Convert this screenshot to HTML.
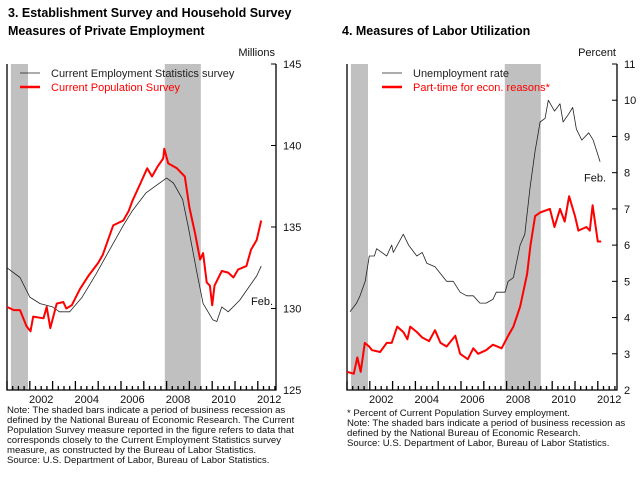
<!DOCTYPE html>
<html><head><meta charset="utf-8"><style>
body{margin:0;background:#fff;font-family:"Liberation Sans",Arial,sans-serif;}
svg text{font-family:"Liberation Sans",Arial,sans-serif;}
</style></head><body>
<svg id="s" width="640" height="474" xmlns="http://www.w3.org/2000/svg">
<text x="8" y="17" font-size="12.5" font-weight="bold">3.  Establishment Survey and Household Survey</text>
<text x="8" y="35" font-size="12.5" font-weight="bold">Measures of Private Employment</text>
<text x="342" y="35" font-size="12.5" font-weight="bold">4.  Measures of Labor Utilization</text>
<g font-size="9.6" fill="#111">
<text x="7" y="413">Note: The shaded bars indicate a period of business recession as</text>
<text x="7" y="423">defined by the National Bureau of Economic Research.  The Current</text>
<text x="7" y="433">Population Survey measure reported in the figure refers to data that</text>
<text x="7" y="443">corresponds closely to the Current Employment Statistics survey</text>
<text x="7" y="453">measure, as constructed by the Bureau of Labor Statistics.</text>
<text x="7" y="463">Source: U.S. Department of Labor, Bureau of Labor Statistics.</text>
</g>
<g font-size="9.6" fill="#111">
<text x="347" y="416">* Percent of Current Population Survey employment.</text>
<text x="347" y="426">Note: The shaded bars indicate a period of business recession as</text>
<text x="347" y="436">defined by the National Bureau of Economic Research.</text>
<text x="347" y="446">Source: U.S. Department of Labor, Bureau of Labor Statistics.</text>
</g>
</svg>
<script>
const recessions=[[2001.17,2001.92],[2007.92,2009.5]];
const yearLabels=["2002","2004","2006","2008","2010","2012"];
const cesT=[2001.0,2001.57,2002.0,2002.45,2003.0,2003.3,2003.75,2004.3,2004.9,2005.5,2006.1,2006.5,2007.1,2007.6,2008.0,2008.3,2008.7,2008.95,2009.33,2009.6,2010.03,2010.2,2010.42,2010.7,2011.2,2011.5,2011.95,2012.15];
const cesV=[132.5,131.9,130.7,130.3,130.1,129.8,129.8,130.7,132.1,133.6,135.1,136.0,137.1,137.6,138.0,137.7,136.7,135.0,132.2,130.3,129.3,129.2,130.1,129.8,130.5,131.1,132.0,132.6];
const cpsT=[2001.0,2001.3,2001.57,2001.86,2002.03,2002.15,2002.6,2002.74,2002.9,2003.18,2003.47,2003.6,2003.84,2004.2,2004.57,2005.0,2005.2,2005.66,2006.1,2006.34,2006.5,2006.86,2007.15,2007.36,2007.6,2007.85,2007.9,2008.07,2008.45,2008.8,2009.0,2009.25,2009.47,2009.6,2009.76,2009.9,2010.0,2010.1,2010.42,2010.7,2010.93,2011.14,2011.5,2011.7,2011.95,2012.15];
const cpsV=[130.1,129.9,129.9,128.9,128.6,129.5,129.4,130.1,128.8,130.3,130.4,130.0,130.2,131.2,132.0,132.8,133.3,135.1,135.4,136.0,136.6,137.7,138.6,138.1,138.7,139.2,139.8,138.9,138.6,138.1,136.2,134.6,133.0,133.4,131.6,131.4,130.2,131.4,132.3,132.2,131.9,132.4,132.6,133.6,134.2,135.4];
const urT=[2001.13,2001.42,2001.57,2001.8,2001.98,2002.2,2002.3,2002.74,2002.96,2003.03,2003.47,2003.7,2004.06,2004.3,2004.5,2004.86,2005.37,2005.66,2005.96,2006.25,2006.54,2006.83,2007.1,2007.4,2007.55,2007.93,2008.07,2008.3,2008.59,2008.8,2009.03,2009.25,2009.47,2009.69,2009.83,2010.1,2010.34,2010.48,2010.7,2010.9,2011.06,2011.3,2011.6,2011.8,2012.1];
const urV=[4.16,4.4,4.6,5.0,5.7,5.7,5.9,5.7,6.0,5.8,6.3,6.0,5.7,5.8,5.5,5.4,5.0,5.0,4.7,4.6,4.6,4.4,4.4,4.5,4.7,4.7,5.0,5.1,6.0,6.3,7.6,8.6,9.4,9.5,10.0,9.7,9.9,9.4,9.6,9.8,9.2,8.9,9.1,8.9,8.3];
const ptT=[2001.0,2001.3,2001.45,2001.6,2001.78,2001.97,2002.1,2002.45,2002.74,2002.96,2003.2,2003.47,2003.65,2003.77,2004.06,2004.3,2004.6,2004.86,2005.1,2005.37,2005.75,2005.96,2006.3,2006.54,2006.75,2007.1,2007.4,2007.78,2008.07,2008.3,2008.59,2008.9,2009.05,2009.25,2009.47,2009.9,2010.1,2010.34,2010.55,2010.74,2011.0,2011.15,2011.5,2011.65,2011.77,2012.0,2012.15];
const ptV=[2.5,2.45,2.9,2.5,3.3,3.2,3.1,3.05,3.3,3.3,3.75,3.6,3.4,3.75,3.6,3.45,3.35,3.65,3.3,3.2,3.5,3.0,2.85,3.15,3.0,3.1,3.25,3.15,3.5,3.75,4.3,5.2,6.0,6.8,6.9,7.0,6.5,7.0,6.65,7.35,6.8,6.4,6.5,6.4,7.1,6.1,6.1];
const leftTicks=["125","130","135","140","145"];
const rightTicks=["2","3","4","5","6","7","8","9","10","11"];

const svg=document.getElementById('s');
const NS="http://www.w3.org/2000/svg";
function mk(tag,attrs,parent){const e=document.createElementNS(NS,tag);for(const k in attrs)e.setAttribute(k,attrs[k]);(parent||svg).appendChild(e);return e;}

function chart(cfg){
  const x0=cfg.x0,x1=cfg.x1,top=64,bot=390;
  const X=t=>x0+(t-2001)*22.8;
  const Y=v=>bot-(v-cfg.min)/(cfg.max-cfg.min)*(bot-top);
  const g=mk('g',{});
  
  
  recessions.forEach((r,i)=>{const e=mk('rect',{x:X(r[0]),y:top,width:X(r[1])-X(r[0]),height:bot-top,fill:'#c0c0c0'},g);
    
    });
  const ax=mk('path',{d:`M${x0},${top}V${bot}H${x1}V${top}`,fill:'none',stroke:'#000','stroke-width':1.3},g);
  
  
  let d='';
  for(let q=0;q<=47;q++){const t=2001+q/4;const xx=X(t);if(xx>x1)break;const h=(q%4===0)?9:4;d+=`M${xx},${bot}v${-h}`;}
  const tk=mk('path',{d:d,stroke:'#000','stroke-width':1.3},g);
  
  
  yearLabels.forEach(l=>{const e=mk('text',{x:X(+l+0.5),y:bot+13,'font-size':11,'text-anchor':'middle',fill:'#111'},g);e.textContent=l;
    
    });
  cfg.ticks.forEach(l=>{const yy=Y(+l);mk('line',{x1:x1-5,x2:x1,y1:yy,y2:yy,stroke:'#000','stroke-width':1},g);
    const e=mk('text',{x:x1+7,y:yy+4,'font-size':11,fill:'#111'},g);e.textContent=l;
    
    });
  const u=mk('text',{x:x1-1,y:56,'font-size':11,'text-anchor':'end',fill:'#111'},g);u.textContent=cfg.unit;
  
  
  cfg.series.forEach(s=>{
    const pts=s.t.map((t,i)=>X(t).toFixed(1)+','+Y(s.v[i]).toFixed(1)).join(' ');
    const e=mk('polyline',{points:pts,fill:'none',stroke:s.color,'stroke-width':s.w,'stroke-linejoin':'round'},g);
    
    
  });
  cfg.legend.forEach((s,i)=>{const yy=73+i*14;
    mk('line',{x1:x0+cfg.lgx,x2:x0+cfg.lgx+20,y1:yy,y2:yy,stroke:s.color,'stroke-width':s.w},g);
    const e=mk('text',{x:x0+cfg.lgx+31,y:yy+4,'font-size':11,fill:s.color},g);e.textContent=s.label;
    
    });
  const f=mk('text',{x:cfg.febX,y:Y(cfg.febV),'font-size':11,fill:'#111'},g);f.textContent='Feb.';
  
  
}
chart({name:'employment-chart',x0:7,x1:276,min:125,max:145,ticks:leftTicks,unit:'Millions',lgx:13,febX:251,febV:130.2,
  series:[{t:cesT,v:cesV,color:'#222',w:0.8,name:'ces-line'},{t:cpsT,v:cpsV,color:'#f00',w:2,name:'cps-line'}],
  legend:[{color:'#222',w:0.8,label:'Current Employment Statistics survey'},{color:'#f00',w:2.5,label:'Current Population Survey'}]});
chart({name:'labor-utilization-chart',x0:347,x1:617,min:2,max:11,ticks:rightTicks,unit:'Percent',lgx:35,febX:584,febV:7.75,
  series:[{t:urT,v:urV,color:'#222',w:0.8,name:'unemployment-line'},{t:ptT,v:ptV,color:'#f00',w:2,name:'part-time-line'}],
  legend:[{color:'#222',w:0.8,label:'Unemployment rate'},{color:'#f00',w:2.5,label:'Part-time for econ. reasons*'}]});
</script>
</body></html>
